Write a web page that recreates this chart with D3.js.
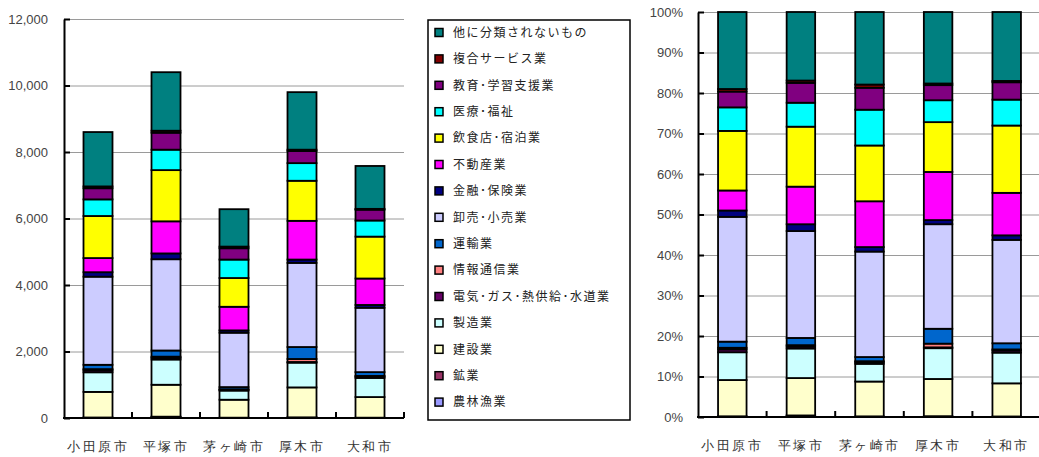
<!DOCTYPE html>
<html>
<head>
<meta charset="utf-8">
<script src="https://cdn.jsdelivr.net/npm/d3@7"></script>
<style>
  body { margin: 0; background: #fff; }
  svg { display: block; font-family: "Noto Sans CJK JP", sans-serif; }
  .grid line { stroke: #9a9a9a; stroke-width: 1; }
  .grid path { display: none; }
  .num text { font-family: "Liberation Sans", sans-serif; font-size: 13px; fill: #444; }
  .cat text { font-size: 13px; fill: #333; letter-spacing: 2.5px; }
</style>
</head>
<body>
<svg id="chart" width="1039" height="457"></svg>
<script>
// cities (categories)
const cities = ["小田原市", "平塚市", "茅ヶ崎市", "厚木市", "大和市"];

// industries, stacked bottom to top
const industries = [
  "農林漁業", "鉱業", "建設業", "製造業", "電気･ガス･熱供給･水道業",
  "情報通信業", "運輸業", "卸売･小売業", "金融･保険業", "不動産業",
  "飲食店･宿泊業", "医療･福祉", "教育･学習支援業", "複合サービス業", "他に分類されないもの"
];
const colors = [
  "#9999ff", "#993366", "#ffffcc", "#ccffff", "#660066",
  "#ff8080", "#0066cc", "#ccccff", "#000080", "#ff00ff",
  "#ffff00", "#00ffff", "#800080", "#800000", "#008080"
];

// establishments per city
const nourin   = [10, 35, 10, 15, 10];
const kougyou  = [5, 5, 0, 5, 0];
const kensetsu = [770, 960, 540, 900, 620];
const seizou   = [590, 760, 275, 745, 575];
const denki    = [60, 50, 25, 20, 40];
const jouhou   = [35, 35, 15, 90, 20];
const unyu     = [130, 185, 65, 360, 115];
const oroshi   = [2650, 2745, 1635, 2530, 1935];
const kinyu    = [135, 175, 70, 100, 85];
const fudousan = [425, 965, 710, 1165, 795];
const inshoku  = [1265, 1540, 865, 1205, 1260];
const iryou    = [500, 615, 555, 530, 485];
const kyouiku  = [335, 510, 340, 365, 325];
const fukugou  = [55, 60, 50, 40, 25];
const sonota   = [1635, 1760, 1125, 1730, 1290];

const countTicks = [0, 2000, 4000, 6000, 8000, 10000, 12000];
const pctTicks = [0, 0.1, 0.2, 0.3, 0.4, 0.5, 0.6, 0.7, 0.8, 0.9, 1];

const series = [nourin, kougyou, kensetsu, seizou, denki, jouhou, unyu, oroshi,
  kinyu, fudousan, inshoku, iryou, kyouiku, fukugou, sonota];

const rows = cities.map(function (c, i) {
  var r = { city: c };
  industries.forEach(function (k, j) { r[k] = series[j][i]; });
  return r;
});

const color = d3.scaleOrdinal().domain(industries).range(colors);
const svg = d3.select("#chart");

function drawChart(opts) {
  var x = d3.scaleBand().domain(cities).range([opts.x0, opts.x1]);
  var y = d3.scaleLinear().domain(opts.domain).range([opts.y0, opts.y1]);
  var g = svg.append("g");

  // gridlines
  g.append("g")
    .attr("class", "grid")
    .attr("transform", "translate(" + opts.x0 + ",0)")
    .call(d3.axisLeft(y).tickValues(opts.ticks).tickSize(-(opts.x1 - opts.x0)).tickFormat(""));

  // bars
  var stack = d3.stack().keys(industries);
  if (opts.expand) stack.offset(d3.stackOffsetExpand);
  var layers = stack(rows);
  var bw = opts.barW;
  g.selectAll("g.layer")
    .data(layers)
    .enter()
    .append("g")
    .attr("class", "layer")
    .attr("fill", function (d) { return color(d.key); })
    .selectAll("rect")
    .data(function (d) { return d; })
    .enter()
    .append("rect")
    .attr("x", function (d) { return x(d.data.city) + x.bandwidth() / 2 - bw / 2; })
    .attr("width", bw)
    .attr("y", function (d) { return y(d[1]); })
    .attr("height", function (d) { return y(d[0]) - y(d[1]); })
    .attr("stroke", "#000")
    .attr("stroke-width", 1.8);

  // y axis
  var ya = g.append("g")
    .attr("class", "num")
    .attr("transform", "translate(" + opts.x0 + ",0)")
    .call(d3.axisLeft(y).tickValues(opts.ticks).tickSizeInner(-6).tickSizeOuter(0)
      .tickPadding(opts.labelPad).tickFormat(opts.fmt));
  ya.select(".domain").attr("stroke", "#000").attr("stroke-width", 2);
  ya.selectAll(".tick line").attr("stroke", "#000").attr("stroke-width", 2);

  // x axis
  var xa = g.append("g")
    .attr("class", "cat")
    .attr("transform", "translate(0," + opts.y0 + ")")
    .call(d3.axisBottom(x).tickSize(0).tickPadding(24));
  xa.select(".domain").remove();
  g.append("line")
    .attr("x1", opts.x0 - 1).attr("x2", opts.x1)
    .attr("y1", opts.y0).attr("y2", opts.y0)
    .attr("stroke", "#000").attr("stroke-width", 2);
  g.selectAll("line.xtick")
    .data(cities)
    .enter()
    .append("line")
    .attr("class", "xtick")
    .attr("x1", function (d) { return x(d) + x.step(); })
    .attr("x2", function (d) { return x(d) + x.step(); })
    .attr("y1", opts.y0)
    .attr("y2", opts.y0 - 6)
    .attr("stroke", "#000")
    .attr("stroke-width", 2);
}

// left: counts
drawChart({
  x0: 64, x1: 404, y0: 418, y1: 19,
  domain: [0, 12000], ticks: countTicks, barW: 29,
  labelPad: 16, fmt: d3.format(",")
});

// right: share
drawChart({
  x0: 698, x1: 1041, y0: 417, y1: 12,
  domain: [0, 1], ticks: pctTicks, barW: 28.5, expand: true,
  labelPad: 15, fmt: d3.format(".0%")
});

// legend
var legend = svg.append("g");
legend.append("rect")
  .attr("x", 428).attr("y", 20)
  .attr("width", 202).attr("height", 400)
  .attr("fill", "#fff")
  .attr("stroke", "#000")
  .attr("stroke-width", 1.5);
var items = legend.selectAll("g.item")
  .data(industries.slice().reverse())
  .enter()
  .append("g")
  .attr("class", "item")
  .attr("transform", function (d, i) { return "translate(435," + (32.5 + i * 26.4) + ")"; });
items.append("rect")
  .attr("x", 0).attr("y", -4)
  .attr("width", 8).attr("height", 8)
  .attr("fill", function (d) { return color(d); })
  .attr("stroke", "#000")
  .attr("stroke-width", 1.5);
items.append("text")
  .attr("x", 18)
  .attr("dy", "0.36em")
  .style("font-size", "12px")
  .style("letter-spacing", "1.5px")
  .attr("fill", "#222")
  .text(function (d) { return d; });
</script>
</body>
</html>
